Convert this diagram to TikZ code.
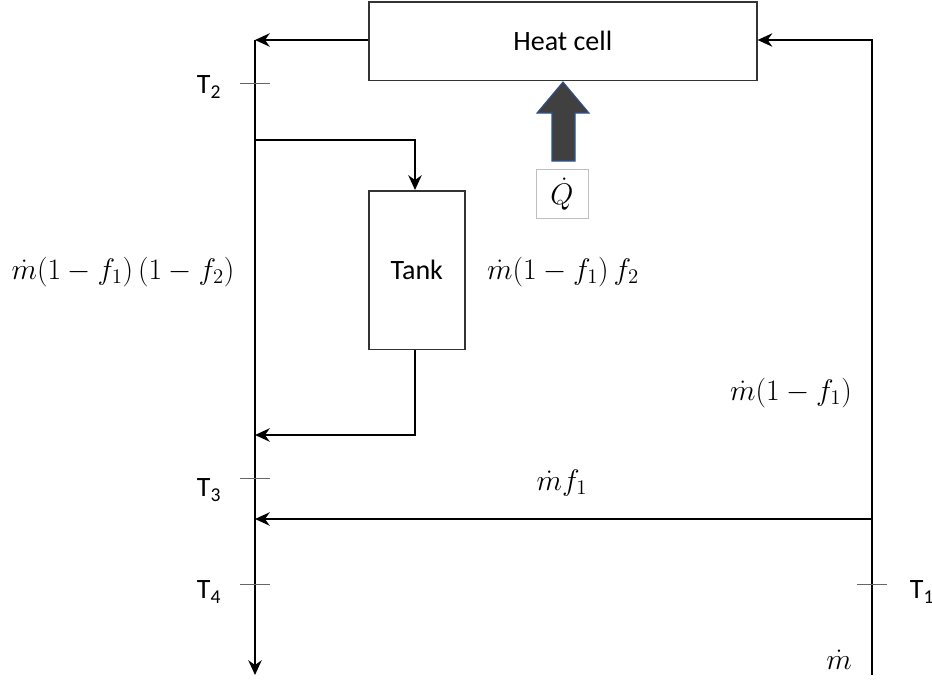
\RequirePackage{fix-cm}
\documentclass[tikz,border=0pt]{standalone}
\usepackage{fontspec}
\setmainfont{Carlito}
\usepackage{amsmath}
\usetikzlibrary{arrows.meta}
\definecolor{qfill}{RGB}{64,64,64}
\definecolor{qedge}{RGB}{47,82,143}
\begin{document}
\begin{tikzpicture}[x=0.75pt,y=-0.75pt,
  flow/.style={line width=1.6pt,draw=black},
  arr/.style={flow,-{Stealth[length=11pt,width=10pt,inset=3.5pt]}},
  tick/.style={line width=0.6pt,draw=black!60},
  boxn/.style={draw=black!80,line width=1.2pt,inner sep=0pt},
  lab/.style={font=\fontsize{21}{25}\selectfont},
  mlab/.style={font=\fontsize{22.3}{26}\selectfont}]
\useasboundingbox (0,0) rectangle (932,682);
% boxes
\node[boxn,minimum width=291pt,minimum height=59pt,anchor=north west,lab] (heat) at (368,1) {Heat cell};
\node[boxn,minimum width=72pt,minimum height=119pt,anchor=north west,lab] (tank) at (368,190) {Tank};
% coordinates
\coordinate (L1) at (255,40);
\coordinate (Lb) at (255,675);
\coordinate (R1) at (872,40);
\coordinate (Rb) at (872,675);
\coordinate (B1) at (255,140);
\coordinate (B2) at (415,140);
\coordinate (C1) at (415,435);
\coordinate (C2) at (255,435);
\coordinate (D1) at (872,519);
\coordinate (D2) at (255,519);
% main lines
\draw[arr] (heat.west |- L1) -- (L1);
\draw[arr] (L1) -- (Lb);
\draw[arr] (Rb) -- (R1) -- (heat.east |- R1);
\draw[arr] (B1) -- (B2) -- (tank.north -| B2);
\draw[arr] (tank.south -| C1) -- (C1) -- (C2);
\draw[arr] (D1) -- (D2);
% ticks
\draw[tick] (240,83) -- (270,83);
\draw[tick] (240,478) -- (270,478);
\draw[tick] (240,584) -- (270,584);
\draw[tick] (857,584) -- (887,584);
\node[lab] (t2) at (209,87) {T\textsubscript{2}};
\node[lab] (t3) at (209,490) {T\textsubscript{3}};
\node[lab] (t4) at (209,592) {T\textsubscript{4}};
\node[lab] (t1) at (922,592) {T\textsubscript{1}};
% heat input block arrow
\draw[draw=qedge,line width=0.8pt,fill=qfill,line join=miter]
  (563,82) -- (589,113) -- (575,113) -- (575,161) -- (552,161) -- (552,113) -- (537,113) -- cycle;
\node[draw=black!25,line width=0.5pt,minimum width=39pt,minimum height=37pt,inner sep=0pt,mlab] (qb) at (562,194) {$\dot{Q}$};
% labels
\node[mlab] (l1) at (123,272) {$\dot{m}(1-f_1)\,(1-f_2)$};
\node[mlab] (l2) at (563,272) {$\dot{m}(1-f_1)\,f_2$};
\node[mlab] (l3) at (791,393) {$\dot{m}(1-f_1)$};
\node[mlab] (l4) at (562,483) {$\dot{m}f_1$};
\node[mlab] (l5) at (839,660) {$\dot{m}$};
\end{tikzpicture}
\end{document}
